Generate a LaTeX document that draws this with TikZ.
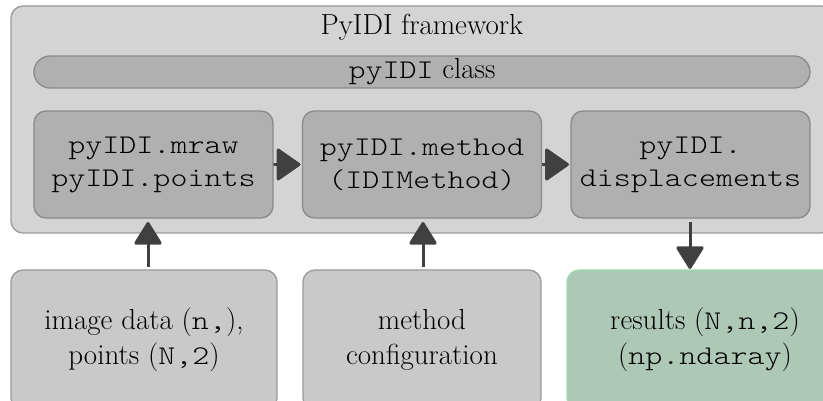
\documentclass[tikz,border=0pt]{standalone}
\usepackage{fontspec}
\setmonofont[FakeStretch=1.2]{Latin Modern Mono Light}
\usetikzlibrary{arrows.meta,calc}
\pgfdeclarelayer{under}
\pgfsetlayers{under,main}
\definecolor{outerfill}{HTML}{D4D4D4}
\definecolor{outerdraw}{HTML}{9A9A9A}
\definecolor{innerfill}{HTML}{B0B0B0}
\definecolor{innerdraw}{HTML}{8A8A8A}
\definecolor{botfill}{HTML}{C9C9C9}
\definecolor{botdraw}{HTML}{9A9A9A}
\definecolor{greenfill}{HTML}{ADC9B6}
\definecolor{greendraw}{HTML}{9EDCAC}
\definecolor{arrcol}{HTML}{404040}
\tikzset{
  every node/.append style={font=\fontsize{29}{35}\selectfont, inner sep=0pt, outer sep=0pt},
  outerbox/.style={draw=outerdraw, fill=outerfill, line width=1.3pt, rounded corners=12pt},
  classbar/.style={draw=innerdraw, fill=innerfill, line width=1.3pt, rounded corners=16pt},
  innerbox/.style={draw=innerdraw, fill=innerfill, line width=1.3pt, rounded corners=12pt,
    minimum width=239pt, minimum height=107pt, align=center, font=\fontsize{27}{33}\selectfont\ttfamily},
  botbox/.style={draw=botdraw, fill=botfill, line width=1.3pt, rounded corners=12pt,
    minimum height=140pt, align=center, font=\fontsize{29}{35}\selectfont},
  greenbox/.style={botbox, draw=greendraw, fill=greenfill},
  flowarr/.style={draw=arrcol, line width=3pt, -{Triangle[width=29pt,length=24pt,round]}},
  sidearr/.style={draw=arrcol, line width=3pt, -{Triangle[width=34pt,length=25pt,round]}}
}
\begin{document}
\begin{tikzpicture}[x=1pt,y=-1pt]
\useasboundingbox (0,0) rectangle (823,401);
\clip (0,0) rectangle (823,401);
% framework
\begin{pgfonlayer}{under}
\node[outerbox, minimum width=822pt, minimum height=227pt] (frame) at (422,119.5) {};
\end{pgfonlayer}
\node[anchor=base] (title) at (422,35) {PyIDI framework};
\node[classbar, minimum width=776pt, minimum height=32pt] (cls) at (422,72) {{\fontsize{27}{33}\selectfont\ttfamily pyIDI} class};
% inner boxes
\node[innerbox] (in1) at (153.5,164.5) {pyIDI.mraw\\pyIDI.points};
\node[innerbox] (in2) at (422,164.5) {pyIDI.method\\(IDIMethod)};
\node[innerbox] (in3) at (690.5,164.5) {pyIDI.\\displacements};
% bottom boxes
\node[botbox, minimum width=266pt] (bot1) at (144,340) {image data ({\fontsize{27}{33}\selectfont\ttfamily n,}),\\points ({\fontsize{27}{33}\selectfont\ttfamily N,2})};
\node[botbox, minimum width=238pt] (bot2) at (422,340) {method\\configuration};
\node[greenbox, minimum width=276pt] (bot3) at (705,340) {results ({\fontsize{27}{33}\selectfont\ttfamily N,n,2})\\({\fontsize{27}{33}\selectfont\ttfamily np.ndaray})};
% arrows
\begin{pgfonlayer}{under}
\draw[sidearr, shorten <=-20pt, shorten >=2pt] (in1.east) -- (in2.west);
\draw[sidearr, shorten <=-20pt, shorten >=2pt] (in2.east) -- (in3.west);
\end{pgfonlayer}
\coordinate (a1) at (148,0);
\coordinate (a2) at (423,0);
\coordinate (a3) at (690,0);
\draw[flowarr, shorten <=3pt, shorten >=4pt] (bot1.north -| a1) -- (in1.south -| a1);
\draw[flowarr, shorten <=3pt, shorten >=4pt] (bot2.north -| a2) -- (in2.south -| a2);
\draw[flowarr, shorten <=4pt, shorten >=1pt] (in3.south -| a3) -- (bot3.north -| a3);
\end{tikzpicture}
\end{document}
